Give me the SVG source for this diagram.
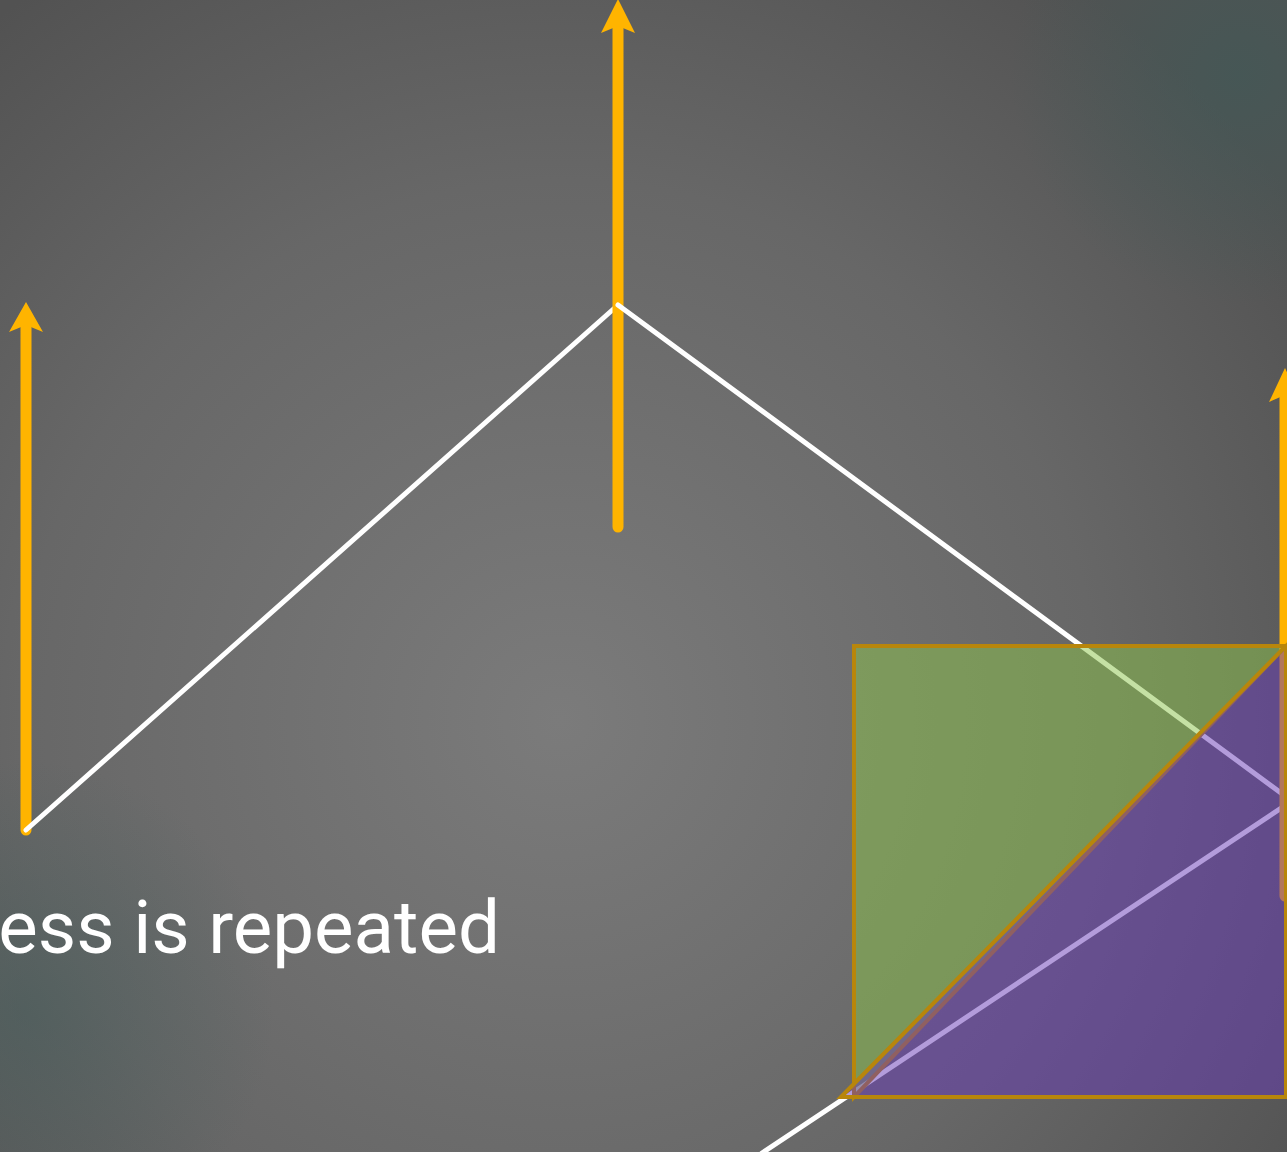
<svg xmlns="http://www.w3.org/2000/svg" width="1287" height="1152" viewBox="0 0 1287 1152">
  <defs>
    <radialGradient id="bg" cx="560" cy="720" r="900" gradientUnits="userSpaceOnUse">
      <stop offset="0" stop-color="#7b7b7b"/>
      <stop offset="0.6" stop-color="#676767"/>
      <stop offset="1" stop-color="#525252"/>
    </radialGradient>
    <radialGradient id="glowTR" cx="1240" cy="75" r="230" gradientUnits="userSpaceOnUse">
      <stop offset="0" stop-color="#3e5a58" stop-opacity="0.6"/>
      <stop offset="1" stop-color="#3e5a58" stop-opacity="0"/>
    </radialGradient>
    <radialGradient id="glowBL" cx="25" cy="1010" r="250" gradientUnits="userSpaceOnUse">
      <stop offset="0" stop-color="#3e5a58" stop-opacity="0.45"/>
      <stop offset="1" stop-color="#3e5a58" stop-opacity="0"/>
    </radialGradient>
    <style>
      .vec { stroke: #ffb400; stroke-width: 11; stroke-linecap: round; fill: none; }
      .head { fill: #ffb400; }
      .edge { stroke: #ffffff; stroke-width: 5; stroke-linecap: round; stroke-linejoin: round; fill: none; }
      .tri { stroke: #b8860b; stroke-width: 4; stroke-linejoin: miter; }
      .label { font-family: Roboto, "Liberation Sans", sans-serif; font-size: 74.5px; fill: #ffffff; }
    </style>
  </defs>

  <rect x="0" y="0" width="1287" height="1152" fill="url(#bg)"/>
  <rect x="0" y="0" width="1287" height="1152" fill="url(#glowTR)"/>
  <rect x="0" y="0" width="1287" height="1152" fill="url(#glowBL)"/>

  <g id="connectors">
    <g id="vector-left">
      <line class="vec" x1="26" y1="830" x2="26" y2="326"/>
      <path class="head" d="M26,302 L43,332 L26,325 L9,332 Z"/>
    </g>
    <path id="edge-1" class="edge" d="M26,830 L618,305"/>
    <g id="vector-center">
      <line class="vec" x1="618" y1="527" x2="618" y2="26"/>
      <path class="head" d="M618,-1 L635,33 L618,26 L601,33 Z"/>
    </g>
    <path id="edge-2" class="edge" d="M618,305 L1292,801 L762,1153"/>
    <g id="vector-right">
      <line class="vec" x1="1285" y1="896" x2="1285" y2="395"/>
      <path class="head" d="M1285,368 L1301,402 L1285,395 L1269,402 Z"/>
    </g>
  </g>

  <g id="triangle-green">
    <polygon class="tri" points="854,646 1286,646 854,1097" fill="#8bc34a" fill-opacity="0.5"/>
  </g>
  <g id="triangle-purple">
    <polygon class="tri" points="841,1097 1286,646 1286,1097" fill="#673ab7" fill-opacity="0.5"/>
  </g>

  <g id="caption">
    <text class="label" x="500" y="953" text-anchor="end">ess is repeated</text>
  </g>
</svg>
